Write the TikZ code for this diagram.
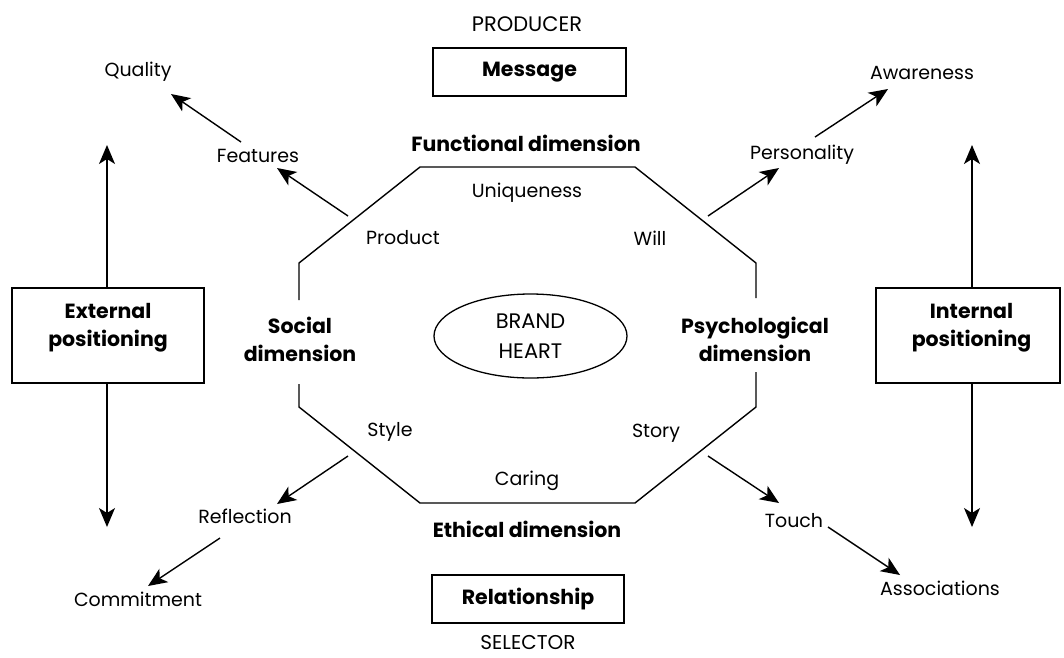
\documentclass[tikz,border=0pt]{standalone}
\usepackage{fontspec}
\setmainfont{Poppins}
\usetikzlibrary{arrows.meta,shapes.geometric}
\begin{document}
\begin{tikzpicture}[x=1pt,y=-1pt,
  lbl/.style={font=\fontsize{19}{29}\selectfont, inner sep=0pt},
  capsone/.style={font=\fontsize{21}{30}\selectfont, inner sep=0pt},
  caps/.style={capsone, align=center},
  bld/.style={font=\bfseries\fontsize{20.5}{28}\selectfont, inner sep=0pt, align=center},
  boxn/.style={draw, line width=1.5pt, inner sep=0pt},
  arr/.style={-{Stealth[length=19pt,width=16pt,inset=5pt]}, line width=1.4pt},
  edge/.style={line width=1.4pt}]
\useasboundingbox (0,0) rectangle (1064,657);

% octagon
\draw[edge] (299,300) -- (299,263) -- (420,167) -- (635,167) -- (756,263) -- (756,298);
\draw[edge] (299,384) -- (299,407) -- (420,503) -- (635,503) -- (756,407) -- (756,372);

% centre
\node[draw, ellipse, line width=1.3pt, minimum width=193pt, minimum height=84pt, inner sep=0pt, caps] (heart) at (530.5,336) {BRAND\\HEART};

% top and bottom
\node[capsone] (producer) at (527,24) {PRODUCER};
\node[boxn, bld, minimum width=193pt, minimum height=48pt] (message) at (529.5,72) {Message};
\node[boxn, bld, minimum width=192pt, minimum height=48pt] (relationship) at (528,599) {Relationship};
\node[capsone, font=\fontsize{20}{30}\selectfont] (selector) at (528,642) {SELECTOR};

% dimensions
\node[bld] (functional) at (526,143) {Functional dimension};
\node[bld] (social) at (300,339.5) {Social\\dimension};
\node[bld] (psych) at (755,339) {Psychological\\dimension};
\node[bld] (ethical) at (527,529) {Ethical dimension};

% inner labels
\node[lbl] (uniqueness) at (527,193) {Uniqueness};
\node[lbl] (product) at (403,238) {Product};
\node[lbl] (will) at (650,238) {Will};
\node[lbl] (style) at (390,432) {Style};
\node[lbl] (story) at (656,433) {Story};
\node[lbl] (caring) at (527,481) {Caring};

% outer labels
\node[lbl] (quality) at (138,72) {Quality};
\node[lbl] (features) at (258,156) {Features};
\node[lbl] (personality) at (802,155) {Personality};
\node[lbl] (awareness) at (922,73) {Awareness};
\node[lbl] (reflection) at (245,516) {Reflection};
\node[lbl] (commitment) at (138,599) {Commitment};
\node[lbl] (touch) at (794,521) {Touch};
\node[lbl] (associations) at (940,588) {Associations};

% positioning boxes
\node[boxn, minimum width=192pt, minimum height=95pt] (ext) at (108,335.5) {};
\node[bld] (exttext) at (108,328) {External\\positioning};
\node[boxn, minimum width=184pt, minimum height=95pt] (int) at (968,335.5) {};
\node[bld] (inttext) at (971.5,328) {Internal\\positioning};

% arrow end points
\coordinate (featTail) at (348,216);
\coordinate (featTip) at (277,168);
\coordinate (qualTail) at (241,142);
\coordinate (qualTip) at (171,94);
\coordinate (persTail) at (708,216);
\coordinate (persTip) at (779,168);
\coordinate (awaTail) at (815,137);
\coordinate (awaTip) at (888,89);
\coordinate (reflTail) at (348,456);
\coordinate (reflTip) at (277,504);
\coordinate (commTail) at (220,538);
\coordinate (commTip) at (148,586);
\coordinate (touchTail) at (708,456);
\coordinate (touchTip) at (779,503);
\coordinate (assTail) at (828,527);
\coordinate (assTip) at (900,575);
\coordinate (extUp) at (107,145);
\coordinate (extDown) at (107,527);
\coordinate (intUp) at (972,145);
\coordinate (intDown) at (972,527);

% arrows
\draw[arr] (featTail) -- (featTip);
\draw[arr] (qualTail) -- (qualTip);
\draw[arr] (persTail) -- (persTip);
\draw[arr] (awaTail) -- (awaTip);
\draw[arr] (reflTail) -- (reflTip);
\draw[arr] (commTail) -- (commTip);
\draw[arr] (touchTail) -- (touchTip);
\draw[arr] (assTail) -- (assTip);
\draw[arr] (ext.north -| extUp) -- (extUp);
\draw[arr] (ext.south -| extDown) -- (extDown);
\draw[arr] (int.north -| intUp) -- (intUp);
\draw[arr] (int.south -| intDown) -- (intDown);
\end{tikzpicture}
\end{document}
